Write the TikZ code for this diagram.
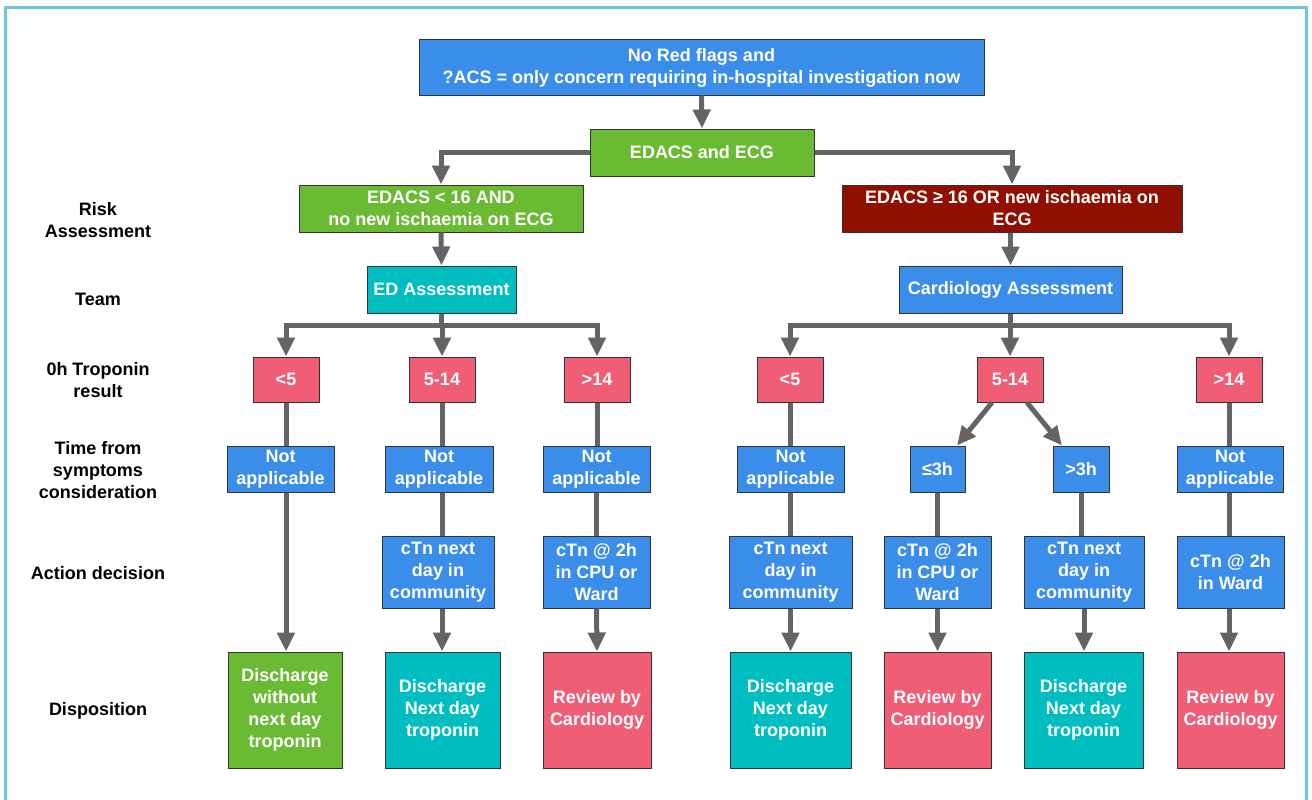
\documentclass[tikz,border=0pt]{standalone}
\usepackage{fontspec}
\setmainfont{Liberation Sans}
\usetikzlibrary{arrows.meta}
\definecolor{cblue}{RGB}{59,141,234}
\definecolor{cgreen}{RGB}{106,186,52}
\definecolor{cteal}{RGB}{0,190,192}
\definecolor{cpink}{RGB}{240,94,118}
\definecolor{cdred}{RGB}{145,15,0}
\definecolor{cgray}{RGB}{100,100,100}
\definecolor{cframe}{RGB}{108,200,220}
\newcommand{\bxfont}{\fontsize{18}{22}\selectfont\bfseries}
\begin{document}
\begin{tikzpicture}[x=1pt,y=-1pt,
  box/.style={draw=black!80, line width=1pt, text=white, font=\bxfont, align=center, inner sep=0pt},
  bl/.style={box, fill=cblue},
  gr/.style={box, fill=cgreen},
  tl/.style={box, fill=cteal},
  pk/.style={box, fill=cpink},
  dr/.style={box, fill=cdred},
  lab/.style={font=\bxfont, text=black, align=center, inner sep=0pt},
  conn/.style={draw=cgray, line width=5pt},
  arr/.style={conn, -{Triangle[width=17pt,length=19pt]}}]
\useasboundingbox (0,0) rectangle (1312,800);
\draw[cframe, line width=3pt] (5,805) -- (5,8) -- (1306,8) -- (1306,805);

% labels
\node[lab] (labRisk) at (98,220) {Risk\\Assessment};
\node[lab] (labTeam) at (98,299) {Team};
\node[lab] (labTrop) at (98,380) {0h Troponin\\result};
\node[lab] (labTime) at (98,470) {Time from\\symptoms\\consideration};
\node[lab] (labAct) at (98,573) {Action decision};
\node[lab] (labDisp) at (98,711) {Disposition};

% top
\node[bl, minimum width=565pt, minimum height=55pt] (top) at (701.5,67.5) {No Red flags and\\?ACS = only concern requiring in-hospital investigation now};
\node[gr, minimum width=224pt, minimum height=47pt] (edacs) at (702,152.5) {EDACS and ECG};
\node[gr, minimum width=284pt, minimum height=47pt] (lgreen) at (441,208.5) {EDACS < 16 AND\\no new ischaemia on ECG};
\node[dr, minimum width=340pt, minimum height=47pt] (rred) at (1012,208.5) {EDACS ≥ 16 OR new ischaemia on\\ECG};
\node[tl, minimum width=149pt, minimum height=47pt] (eda) at (441.5,289.5) {ED Assessment};
\node[bl, minimum width=223pt, minimum height=47pt] (card) at (1010.5,289.5) {Cardiology Assessment};

% troponin row
\node[pk, minimum width=66pt, minimum height=45pt] (l1t) at (286,379.5) {<5};
\node[pk, minimum width=66pt, minimum height=45pt] (l2t) at (442,379.5) {5-14};
\node[pk, minimum width=66pt, minimum height=45pt] (l3t) at (597,379.5) {>14};
\node[pk, minimum width=66pt, minimum height=45pt] (r1t) at (790,379.5) {<5};
\node[pk, minimum width=66pt, minimum height=45pt] (r2t) at (1010,379.5) {5-14};
\node[pk, minimum width=66pt, minimum height=45pt] (r3t) at (1229,379.5) {>14};

% time row
\node[bl, minimum width=107pt, minimum height=46pt] (l1n) at (280.5,469) {Not\\applicable};
\node[bl, minimum width=108pt, minimum height=46pt] (l2n) at (439,469) {Not\\applicable};
\node[bl, minimum width=107pt, minimum height=46pt] (l3n) at (596.5,469) {Not\\applicable};
\node[bl, minimum width=107pt, minimum height=46pt] (r1n) at (790.5,469) {Not\\applicable};
\node[bl, minimum width=55pt, minimum height=46pt] (r2h) at (937.5,469) {≤3h};
\node[bl, minimum width=56pt, minimum height=46pt] (r3h) at (1081,469) {>3h};
\node[bl, minimum width=106pt, minimum height=46pt] (r4n) at (1230,469) {Not\\applicable};

% action row
\node[bl, minimum width=112pt, minimum height=72pt] (l2a) at (438,572) {cTn next\\day in\\community};
\node[bl, minimum width=107pt, minimum height=72pt] (l3a) at (596.5,572) {cTn @ 2h\\in CPU or\\Ward};
\node[bl, minimum width=123pt, minimum height=72pt] (r1a) at (790.5,572) {cTn next\\day in\\community};
\node[bl, minimum width=107pt, minimum height=72pt] (r2a) at (937.5,572) {cTn @ 2h\\in CPU or\\Ward};
\node[bl, minimum width=120pt, minimum height=72pt] (r3a) at (1084,572) {cTn next\\day in\\community};
\node[bl, minimum width=107pt, minimum height=72pt] (r4a) at (1230.5,572) {cTn @ 2h\\in Ward};

% disposition row
\node[gr, minimum width=114pt, minimum height=116pt] (l1d) at (285,710) {Discharge\\without\\next day\\troponin};
\node[tl, minimum width=115pt, minimum height=116pt] (l2d) at (442.5,710) {Discharge\\Next day\\troponin};
\node[pk, minimum width=108pt, minimum height=116pt] (l3d) at (597,710) {Review by\\Cardiology};
\node[tl, minimum width=121pt, minimum height=116pt] (r1d) at (790.5,710) {Discharge\\Next day\\troponin};
\node[pk, minimum width=107pt, minimum height=116pt] (r2d) at (937.5,710) {Review by\\Cardiology};
\node[tl, minimum width=119pt, minimum height=116pt] (r3d) at (1083.5,710) {Discharge\\Next day\\troponin};
\node[pk, minimum width=107pt, minimum height=116pt] (r4d) at (1230.5,710) {Review by\\Cardiology};

% connectors top
\draw[arr] (top.south) -- (edacs.north);
\draw[arr] (edacs.west) -| (lgreen.north);
\draw[arr] (edacs.east) -| (rred.north);
\draw[arr] (lgreen.south) -- (eda.north);
\draw[arr] (rred.south -| card.north) -- (card.north);

% branches
\coordinate (ljn) at (441.5,325);
\coordinate (rjn) at (1010.5,325);
\draw[conn] (eda.south) -- (ljn);
\draw[arr] (ljn) -| (l1t.north);
\draw[arr] (ljn) -| (l2t.north);
\draw[arr] (ljn) -| (l3t.north);
\draw[conn] (card.south) -- (rjn);
\draw[arr] (rjn) -| (r1t.north);
\draw[arr] (rjn) -| (r2t.north);
\draw[arr] (rjn) -| (r3t.north);

% troponin -> time
\draw[conn] (l1t.south) -- (l1t.south |- l1n.north);
\draw[conn] (l2t.south) -- (l2t.south |- l2n.north);
\draw[conn] (l3t.south) -- (l3t.south |- l3n.north);
\draw[conn] (r1t.south) -- (r1t.south |- r1n.north);
\draw[conn] (r3t.south) -- (r3t.south |- r4n.north);
\draw[arr] ([xshift=-18pt]r2t.south) -- ([xshift=19.5pt]r2h.north);
\draw[arr] ([xshift=17pt]r2t.south) -- ([xshift=-19pt]r3h.north);

% time -> action / disposition
\draw[arr] (l1t.south |- l1n.south) -- (l1t.south |- l1d.north);
\draw[conn] (l2t.south |- l2n.south) -- (l2t.south |- l2a.north);
\draw[conn] (l3n.south) -- (l3a.north);
\draw[conn] (r1n.south) -- (r1a.north);
\draw[conn] (r2h.south) -- (r2a.north);
\draw[conn] (r3h.south) -- (r3h.south |- r3a.north);
\draw[conn] (r3t.south |- r4n.south) -- (r3t.south |- r4a.north);

% action -> disposition
\draw[arr] (l2t.south |- l2a.south) -- (l2t.south |- l2d.north);
\draw[arr] (l3a.south) -- (l3d.north);
\draw[arr] (r1a.south) -- (r1d.north);
\draw[arr] (r2a.south) -- (r2d.north);
\draw[arr] (r3a.south) -- (r3a.south |- r3d.north);
\draw[arr] (r3t.south |- r4a.south) -- (r3t.south |- r4d.north);
\end{tikzpicture}
\end{document}
